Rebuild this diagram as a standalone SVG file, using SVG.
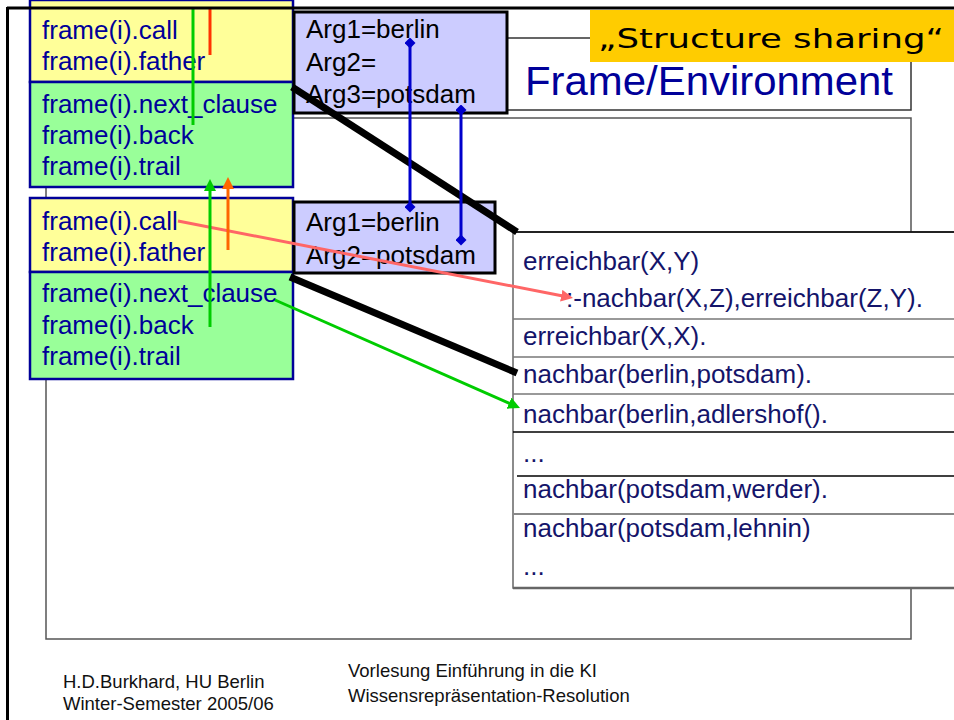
<svg xmlns="http://www.w3.org/2000/svg" width="954" height="720" viewBox="0 0 954 720">
<style>
.ft{font-family:"Liberation Sans",Arial,sans-serif;font-size:26px;fill:#000099}
.ar{font-family:"Liberation Sans",Arial,sans-serif;font-size:26px;fill:#000}
.cl{font-family:"Liberation Sans",Arial,sans-serif;font-size:26px;fill:#14146a}
.foot{font-family:"Liberation Sans",Arial,sans-serif;font-size:18.5px;fill:#111}
.yel{fill:#FFFF99;stroke:#000099;stroke-width:2.5}
.grn{fill:#99FF99;stroke:#000099;stroke-width:2.5}
.arg{fill:#CCCCFF;stroke:#000;stroke-width:3}
.row{stroke:#777;stroke-width:1.5}
.rowk{stroke:#000;stroke-width:1.5}
.thick{stroke:#000;stroke-width:7;fill:none}
.blue{stroke:#0000CC;stroke-width:3;fill:none;marker-start:url(#dia);marker-end:url(#dia)}
</style>
<defs>
<marker id="dia" markerUnits="userSpaceOnUse" markerWidth="11" markerHeight="11" refX="5.5" refY="5.5" orient="auto"><path d="M0,5.5 L5.5,0 L11,5.5 L5.5,11 z" fill="#0000CC"/></marker>
<marker id="ah-green" markerUnits="userSpaceOnUse" markerWidth="12" markerHeight="12" refX="3" refY="6" orient="auto"><path d="M0,0 L12,6 L0,12 z" fill="#00CC00"/></marker>
<marker id="ah-orange" markerUnits="userSpaceOnUse" markerWidth="12" markerHeight="12" refX="3" refY="6" orient="auto"><path d="M0,0 L12,6 L0,12 z" fill="#FF6600"/></marker>
<marker id="ah-red" markerUnits="userSpaceOnUse" markerWidth="12" markerHeight="12" refX="3" refY="6" orient="auto"><path d="M0,0 L12,6 L0,12 z" fill="#FF6666"/></marker>
</defs>
<rect width="954" height="720" fill="#fff"/>
<g id="title">
<rect x="46" y="38" width="865" height="72" fill="#fff" stroke="#333" stroke-width="1.5"/>
<text x="525" y="95" font-family="'Liberation Sans',Arial,sans-serif" font-size="41" fill="#000099" textLength="368" lengthAdjust="spacingAndGlyphs">Frame/Environment</text>
</g>
<g id="content-area">
<rect x="46" y="118" width="865" height="521" fill="none" stroke="#555" stroke-width="1.5"/>
</g>
<g id="label">
<rect x="590" y="10" width="364" height="52" fill="#FFCC00"/>
<text x="598" y="48" font-family="'Comic Sans MS','DejaVu Sans',sans-serif" font-size="27" fill="#000" textLength="346" lengthAdjust="spacingAndGlyphs">„Structure sharing“</text>
</g>
<g id="clauses">
<rect x="513" y="232" width="460" height="356" fill="#fff" stroke="#666" stroke-width="1.5"/>
<line x1="513" y1="232" x2="954" y2="232" class="rowk"/>
<line x1="513" y1="588" x2="954" y2="588" stroke="#666" stroke-width="2.5"/>
<line x1="513" y1="319" x2="954" y2="319" class="row"/>
<line x1="513" y1="357" x2="954" y2="357" class="row"/>
<line x1="513" y1="394" x2="954" y2="394" class="row"/>
<line x1="513" y1="432" x2="954" y2="432" class="rowk"/>
<line x1="517" y1="476" x2="954" y2="476" class="rowk"/>
<line x1="513" y1="514" x2="954" y2="514" stroke="#888" stroke-width="2"/>
<text class="cl" x="523" y="270">erreichbar(X,Y)</text>
<text class="cl" x="566" y="307">:-nachbar(X,Z),erreichbar(Z,Y).</text>
<text class="cl" x="523" y="345">erreichbar(X,X).</text>
<text class="cl" x="523" y="383">nachbar(berlin,potsdam).</text>
<text class="cl" x="523" y="423">nachbar(berlin,adlershof().</text>
<text class="cl" x="523" y="462">...</text>
<text class="cl" x="523" y="498">nachbar(potsdam,werder).</text>
<text class="cl" x="523" y="537">nachbar(potsdam,lehnin)</text>
<text class="cl" x="523" y="575">...</text>
</g>
<g id="frame1">
<rect class="yel" x="30" y="0" width="263" height="82"/>
<rect class="grn" x="30" y="82" width="263" height="105"/>
<text class="ft" x="42" y="39">frame(i).call</text>
<text class="ft" x="42" y="70">frame(i).father</text>
<text class="ft" x="42" y="113">frame(i).next_clause</text>
<text class="ft" x="42" y="144">frame(i).back</text>
<text class="ft" x="42" y="175">frame(i).trail</text>
</g>
<g id="frame2">
<rect class="yel" x="30" y="198" width="263" height="74"/>
<rect class="grn" x="30" y="272" width="263" height="107"/>
<text class="ft" x="42" y="230">frame(i).call</text>
<text class="ft" x="42" y="261">frame(i).father</text>
<text class="ft" x="42" y="302">frame(i).next_clause</text>
<text class="ft" x="42" y="334">frame(i).back</text>
<text class="ft" x="42" y="365">frame(i).trail</text>
</g>
<g id="args1">
<rect class="arg" x="294" y="12" width="213" height="101"/>
<text class="ar" x="306" y="38">Arg1=berlin</text>
<text class="ar" x="306" y="71">Arg2=</text>
<text class="ar" x="306" y="103">Arg3=potsdam</text>
</g>
<g id="args2">
<rect class="arg" x="294" y="202" width="201" height="71"/>
<text class="ar" x="306" y="231">Arg1=berlin</text>
<text class="ar" x="306" y="264">Arg2=potsdam</text>
</g>
<g id="connectors">
<line class="thick" x1="292" y1="87" x2="517" y2="232"/>
<line class="thick" x1="290" y1="277" x2="517" y2="373"/>
<line class="blue" x1="410" y1="43" x2="410" y2="207"/>
<line class="blue" x1="461" y1="110" x2="461" y2="240"/>
<line x1="178" y1="221" x2="564.2" y2="296.3" stroke="#FF6666" stroke-width="3" marker-end="url(#ah-red)"/>
<line x1="275" y1="300" x2="511.8" y2="404.4" stroke="#00CC00" stroke-width="3" marker-end="url(#ah-green)"/>
<line x1="193" y1="8" x2="193" y2="125" stroke="#00CC00" stroke-width="3"/>
<line x1="210" y1="8" x2="210" y2="55" stroke="#FF3300" stroke-width="3"/>
<line x1="210" y1="327" x2="210" y2="188" stroke="#00CC00" stroke-width="3" marker-end="url(#ah-green)"/>
<line x1="228" y1="250" x2="228" y2="186" stroke="#FF6600" stroke-width="3" marker-end="url(#ah-orange)"/>
</g>
<g id="border">
<line x1="7" y1="8" x2="954" y2="8" stroke="#000" stroke-width="3"/>
<line x1="7.5" y1="7" x2="7.5" y2="720" stroke="#000" stroke-width="3"/>
</g>
<g id="footer">
<text class="foot" x="63" y="688">H.D.Burkhard, HU Berlin</text>
<text class="foot" x="63" y="710">Winter-Semester 2005/06</text>
<text class="foot" x="348" y="677">Vorlesung Einführung in die KI</text>
<text class="foot" x="348" y="702">Wissensrepräsentation-Resolution</text>
</g>
</svg>
